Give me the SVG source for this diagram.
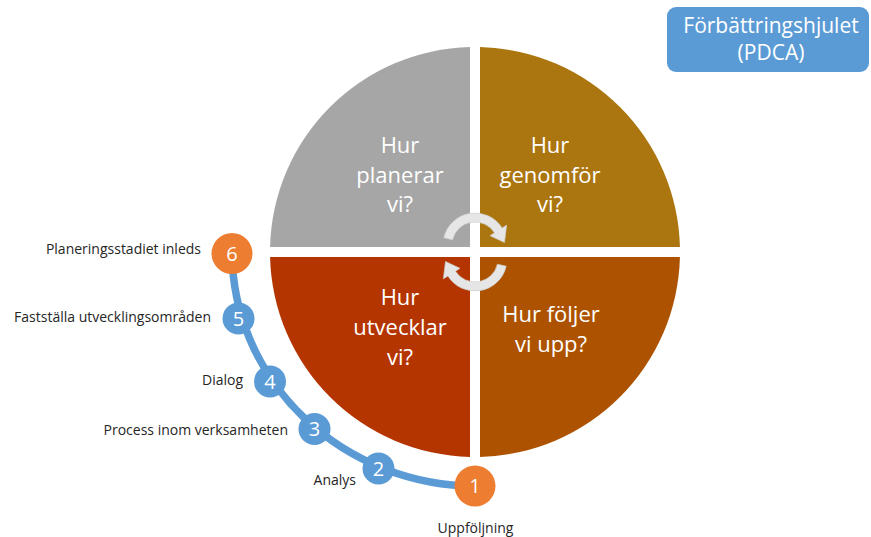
<svg xmlns="http://www.w3.org/2000/svg" width="871" height="537" viewBox="0 0 871 537">
<style>
.q{font-family:"Open Sans","Liberation Sans",sans-serif;font-size:22px;fill:#fff;text-anchor:middle}
.lbl{font-family:"Open Sans","Liberation Sans",sans-serif;font-size:14px;fill:#262626;text-anchor:end}
.num{font-family:"Open Sans","Liberation Sans",sans-serif;font-size:20px;fill:#fff;text-anchor:middle}
.orange{fill:#ED7D31}
.blue{fill:#5B9BD5}
.arr{fill:#E6E6E6;stroke:#CFCFCF;stroke-width:0.7}
</style>
<defs>
<path id="carrow" class="arr" d="M443.8,237.8 A32,32 0 0 1 502.1,228.0 L506.6,225.2 L504.5,242.5 L490.1,235.7 L494.5,232.8 A23,23 0 0 0 452.6,239.8 Z"/>
</defs>
<rect width="871" height="537" fill="#fff"/>
<g id="title">
<rect x="667" y="7" width="202" height="65" rx="9" fill="#5B9BD5"/>
<text x="771" y="33" font-family="'Open Sans','Liberation Sans',sans-serif" font-size="21" fill="#fff" text-anchor="middle">Förbättringshjulet</text>
<text x="771" y="60" font-family="'Open Sans','Liberation Sans',sans-serif" font-size="21" fill="#fff" text-anchor="middle">(PDCA)</text>
</g>
<g id="q-plan">
<path d="M470,247 L470,47.06 A205,205 0 0 0 270.06,247 Z" fill="#A6A6A6"/>
<text class="q" x="400" y="153">Hur</text>
<text class="q" x="400" y="183">planerar</text>
<text class="q" x="400" y="212">vi?</text>
</g>
<g id="q-do">
<path d="M480,247 L679.94,247 A205,205 0 0 0 480,47.06 Z" fill="#AB760F"/>
<text class="q" x="550" y="153">Hur</text>
<text class="q" x="550" y="183">genomför</text>
<text class="q" x="550" y="212">vi?</text>
</g>
<g id="q-check">
<path d="M480,257 L480,456.94 A205,205 0 0 0 679.94,257 Z" fill="#AD5300"/>
<text class="q" x="551" y="322">Hur följer</text>
<text class="q" x="551" y="352">vi upp?</text>
</g>
<g id="q-act">
<path d="M470,257 L270.06,257 A205,205 0 0 0 470,456.94 Z" fill="#B43500"/>
<text class="q" x="400" y="305">Hur</text>
<text class="q" x="400" y="335">utvecklar</text>
<text class="q" x="400" y="365">vi?</text>
</g>
<g id="cycle-arrows">
<use href="#carrow"/>
<use href="#carrow" transform="rotate(180 475 252)"/>
</g>
<g id="connectors">
<path d="M232,253 A244,235 0 0 0 475,486" fill="none" stroke="#5B9BD5" stroke-width="7.5"/>
</g>
<g id="step1">
<circle class="orange" cx="475" cy="486" r="20.5"/>
<text class="num" x="475" y="493">1</text>
<text x="475.5" y="533" font-family="'Open Sans','Liberation Sans',sans-serif" font-size="14" fill="#262626" text-anchor="middle">Uppföljning</text>
</g>
<g id="step2">
<circle class="blue" cx="378.5" cy="468.5" r="16"/>
<text class="num" x="378.5" y="475.5">2</text>
<text class="lbl" x="356" y="485">Analys</text>
</g>
<g id="step3">
<circle class="blue" cx="314.5" cy="429" r="16"/>
<text class="num" x="314.5" y="436">3</text>
<text class="lbl" x="288" y="435">Process inom verksamheten</text>
</g>
<g id="step4">
<circle class="blue" cx="270" cy="381.5" r="16"/>
<text class="num" x="270" y="388.5">4</text>
<text class="lbl" x="243" y="385">Dialog</text>
</g>
<g id="step5">
<circle class="blue" cx="238.5" cy="318.5" r="16"/>
<text class="num" x="238.5" y="325.5">5</text>
<text class="lbl" x="211" y="322">Fastställa utvecklingsområden</text>
</g>
<g id="step6">
<circle class="orange" cx="232" cy="253.5" r="20.5"/>
<text class="num" x="232" y="260.5">6</text>
<text class="lbl" x="201" y="254">Planeringsstadiet inleds</text>
</g>
</svg>
